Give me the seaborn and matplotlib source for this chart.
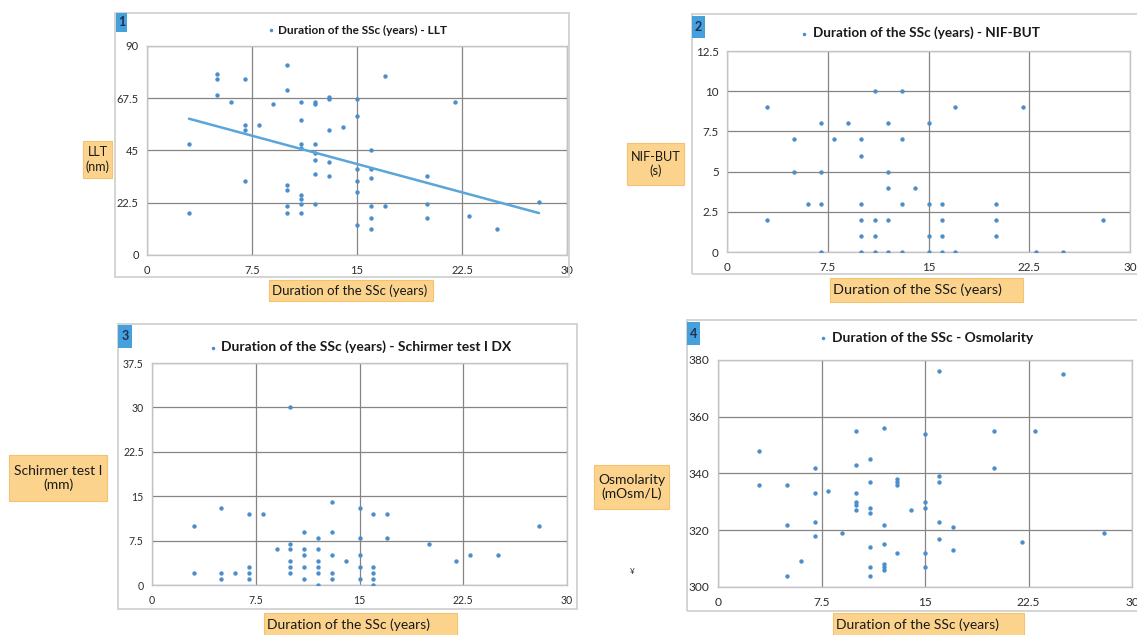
import numpy as np
import pandas as pd
import matplotlib
matplotlib.use("Agg")
import matplotlib.pyplot as plt
from matplotlib.patches import Rectangle
import seaborn as sns

# duration of the SSc (years) vs four eye measures
x_llt = [3, 3, 5, 5, 5, 6, 7, 7, 7, 7, 8, 9, 10, 10, 10, 10, 10, 10,
         11, 11, 11, 11, 11, 11, 11, 11, 12, 12, 12, 12, 12, 12, 12,
         13, 13, 13, 13, 13, 14, 15, 15, 15, 15, 15, 15, 16, 16, 16, 16, 16, 16,
         17, 17, 20, 20, 20, 22, 23, 25, 28]
y_llt = [48, 18, 78, 76, 69, 66, 76, 56, 54, 32, 56, 65, 82, 71, 30, 28, 21, 18,
         66, 58, 48, 46, 26, 24, 22, 18, 66, 65, 48, 44, 41, 35, 22,
         68, 67, 54, 40, 34, 55, 67, 60, 37, 32, 27, 13, 45, 37, 33, 21, 16, 11,
         77, 21, 34, 22, 16, 66, 17, 11, 23]

x_but = [3, 3, 5, 5, 6, 7, 7, 7, 7, 8, 9, 10, 10, 10, 10, 10, 10, 11, 11, 11, 11,
         12, 12, 12, 12, 12, 13, 13, 13, 13, 14, 15, 15, 15, 15, 16, 16, 16, 16,
         17, 17, 20, 20, 20, 22, 23, 25, 28]
y_but = [9, 2, 7, 5, 3, 8, 5, 3, 0, 7, 8, 7, 6, 3, 2, 1, 0, 10, 2, 1, 0,
         8, 5, 4, 2, 0, 10, 7, 3, 0, 4, 8, 3, 1, 0, 3, 2, 1, 0,
         9, 0, 3, 2, 1, 9, 0, 0, 2]

x_sch = [3, 3, 5, 5, 5, 6, 7, 7, 7, 7, 8, 9, 10, 10, 10, 10, 10, 10,
         11, 11, 11, 11, 11, 12, 12, 12, 12, 12, 12, 13, 13, 13, 13, 13, 14,
         15, 15, 15, 15, 15, 16, 16, 16, 16, 16, 17, 17, 20, 22, 23, 25, 28]
y_sch = [10, 2, 13, 2, 1, 2, 12, 3, 2, 1, 12, 6, 30, 7, 6, 4, 3, 2,
         9, 6, 5, 3, 1, 8, 6, 4, 3, 2, 0, 14, 9, 5, 2, 1, 4,
         13, 8, 5, 3, 1, 12, 3, 2, 1, 0, 12, 8, 7, 4, 5, 5, 10]

x_osm = [3, 3, 5, 5, 5, 6, 7, 7, 7, 7, 8, 9, 10, 10, 10, 10, 10, 10,
         11, 11, 11, 11, 11, 11, 11, 12, 12, 12, 12, 12, 12, 13, 13, 13, 13, 14,
         15, 15, 15, 15, 15, 16, 16, 16, 16, 16, 17, 17, 20, 20, 22, 23, 25, 28]
y_osm = [348, 336, 336, 322, 304, 309, 342, 333, 323, 318, 334, 319, 355, 343, 333, 330, 329, 327,
         345, 337, 328, 326, 314, 307, 304, 356, 322, 315, 308, 307, 306, 338, 337, 336, 312, 327,
         354, 330, 328, 312, 307, 376, 339, 337, 323, 317, 321, 313, 355, 342, 316, 355, 375, 319]

x_ticks = [0, 7.5, 15, 22.5, 30]
x_ticklabels = ["0", "7.5", "15", "22.5", "30"]
xlabel = "Duration of the SSc (years)"

sns.set_style("white")
plt.rcParams["font.family"] = ["Lato", "DejaVu Sans"]

W, H = 1137, 635
fig = plt.figure(figsize=(W / 100, H / 100), dpi=100)

def fx(px):
    return px / W

def fy(py):
    return 1 - py / H

def box(x0, y0, x1, y1, fc, ec, lw=1.0, fill=True):
    fig.add_artist(Rectangle((fx(x0), fy(y1)), fx(x1 - x0), (y1 - y0) / H,
                             transform=fig.transFigure, facecolor=fc if fill else "none",
                             edgecolor=ec, lw=lw, fill=fill))

POINT = "#4a8fcb"
ORANGE = "#fbd38c"
ORANGE_EDGE = "#f5c26f"
BLUE = "#45a0dc"

panels = [
    dict(x=x_llt, y=y_llt, yticks=[0, 22.5, 45, 67.5, 90], yticklabels=["0", "22.5", "45", "67.5", "90"],
         ylim=(0, 90), plot=(147, 46, 567, 255), frame=(115, 13, 569, 277),
         num="1", numbox=(116, 13, 127, 32), ticksize=8.0,
         title="Duration of the SSc (years) - LLT", tpos=(357, 30), tsize=8.5,
         ylab="LLT\n(nm)", ybox=(83, 141, 112, 178), ysize=9.0,
         xbox=(269, 280, 433, 301), xsize=9.5, trend=True),
    dict(x=x_but, y=y_but, yticks=[0, 2.5, 5, 7.5, 10, 12.5], yticklabels=["0", "2.5", "5", "7.5", "10", "12.5"],
         ylim=(0, 12.5), plot=(727, 51, 1130, 252), frame=(692, 14, 1140, 274),
         num="2", numbox=(692, 16, 705, 38), ticksize=8.4,
         title="Duration of the SSc (years) - NIF-BUT", tpos=(920, 33), tsize=9.7,
         ylab="NIF-BUT\n(s)", ybox=(627, 143, 684, 185), ysize=9.2,
         xbox=(830, 278, 1023, 302), xsize=10.4, trend=False),
    dict(x=x_sch, y=y_sch, yticks=[0, 7.5, 15, 22.5, 30, 37.5], yticklabels=["0", "7.5", "15", "22.5", "30", "37.5"],
         ylim=(0, 37.5), plot=(152, 363, 567, 585), frame=(118, 324, 577, 609),
         num="3", numbox=(118, 325, 132, 348), ticksize=7.6,
         title="Duration of the SSc (years) - Schirmer test I DX", tpos=(360, 347), tsize=10.0,
         ylab="Schirmer test I\n(mm)", ybox=(9, 455, 107, 501), ysize=10.0,
         xbox=(264, 613, 457, 636), xsize=10.0, trend=False),
    dict(x=x_osm, y=y_osm, yticks=[300, 320, 340, 360, 380], yticklabels=["300", "320", "340", "360", "380"],
         ylim=(300, 380), plot=(718, 360, 1132, 587), frame=(687, 320, 1140, 611),
         num="4", numbox=(687, 322, 700, 345), ticksize=8.6,
         title="Duration of the SSc - Osmolarity", tpos=(926, 338), tsize=10.0,
         ylab="Osmolarity\n(mOsm/L)", ybox=(594, 465, 669, 509), ysize=10.0,
         xbox=(833, 613, 1024, 636), xsize=10.0, trend=False),
]

for p in panels:
    box(*p["frame"], fc="white", ec="#d4d4d4", lw=1.4, fill=False)

    x0, y0, x1, y1 = p["plot"]
    ax = fig.add_axes([fx(x0), fy(y1), fx(x1 - x0), (y1 - y0) / H])
    df = pd.DataFrame({"x": p["x"], "y": p["y"]})
    sns.scatterplot(data=df, x="x", y="y", ax=ax, color=POINT, s=10, linewidth=0,
                    label=p["title"], zorder=3)
    if p["trend"]:
        sns.regplot(data=df, x="x", y="y", ax=ax, scatter=False, ci=None,
                    line_kws=dict(color="#5aa5da", lw=1.8, zorder=4))
    ax.set_xlim(0, 30)
    ax.set_ylim(*p["ylim"])
    ax.set_xticks(x_ticks)
    ax.set_xticklabels(x_ticklabels)
    ax.set_yticks(p["yticks"])
    ax.set_yticklabels(p["yticklabels"])
    ax.set_xlabel("")
    ax.set_ylabel("")
    ax.grid(True, color="#858585", lw=0.9)
    ax.set_axisbelow(True)
    for s in ax.spines.values():
        s.set_color("#c4c4c4")
        s.set_linewidth(1.0)
    ax.tick_params(axis="y", length=4, width=0.8, color="#b0b0b0", labelsize=p["ticksize"],
                   pad=2, labelcolor="#2b2b2b")
    ax.tick_params(axis="x", length=0, labelsize=p["ticksize"], pad=7, labelcolor="#2b2b2b")

    cx, cy = p["tpos"]
    ax.legend(loc="center", bbox_to_anchor=(fx(cx), fy(cy)), bbox_transform=fig.transFigure,
              frameon=False, handlelength=0.6, handletextpad=0.3, borderpad=0, markerscale=0.8,
              prop=dict(weight="bold", size=p["tsize"]), labelcolor="#1a1a1a")

    # numbered tag
    bx0, by0, bx1, by1 = p["numbox"]
    box(bx0, by0, bx1, by1, fc=BLUE, ec=BLUE, lw=0)
    fig.text(fx((bx0 + bx1) / 2), fy((by0 + by1) / 2), p["num"], ha="center", va="center",
             fontsize=9, fontweight="bold", color="#1c2f55")

    # y-axis label box
    lx0, ly0, lx1, ly1 = p["ybox"]
    box(lx0, ly0, lx1, ly1, fc=ORANGE, ec=ORANGE_EDGE, lw=0.8)
    fig.text(fx((lx0 + lx1) / 2), fy((ly0 + ly1) / 2), p["ylab"], ha="center", va="center",
             multialignment="center", fontsize=p["ysize"], color="#1a1a1a", linespacing=1.2)

    # x-axis label box
    lx0, ly0, lx1, ly1 = p["xbox"]
    box(lx0, ly0, lx1, ly1, fc=ORANGE, ec=ORANGE_EDGE, lw=0.8)
    fig.text(fx(lx0 + 3), fy((ly0 + ly1) / 2), xlabel, ha="left", va="center",
             fontsize=p["xsize"], color="#1a1a1a")

# small stray mark in the source image
fig.text(fx(632), fy(571), "¥", ha="center", va="center", fontsize=6, color="#333333")

fig.savefig("out.png", dpi=100)
